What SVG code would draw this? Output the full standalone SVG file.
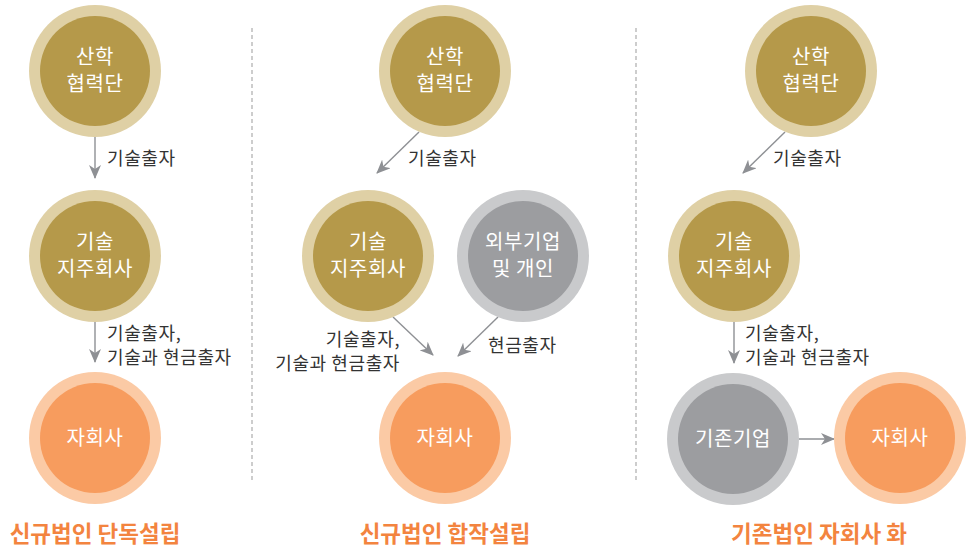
<svg xmlns="http://www.w3.org/2000/svg" width="966" height="550" viewBox="0 0 966 550">
<defs>
<style>
.og{fill:#dfd0a5}.ig{fill:#b5994a}
.oy{fill:#c9cacc}.iy{fill:#9c9da0}
.oo{fill:#fbcaa5}.io{fill:#f79c5e}
.ct{font-family:"Noto Sans CJK KR","Noto Sans",sans-serif;font-size:20px;letter-spacing:0.6px;fill:#ffffff;text-anchor:middle}
.lb{font-family:"Noto Sans CJK KR","Noto Sans",sans-serif;font-size:18px;letter-spacing:0.6px;fill:#333333}
.tt{font-family:"Noto Sans CJK KR","Noto Sans",sans-serif;font-size:22.5px;font-weight:bold;fill:#f3843f;text-anchor:middle}
.ar{stroke:#8e9094;stroke-width:1.4;fill:none;marker-end:url(#ah)}
.dv{stroke:#b3b3b3;stroke-width:1.3;stroke-dasharray:4 3;fill:none}
</style>
<marker id="ah" markerUnits="userSpaceOnUse" markerWidth="14" markerHeight="12" refX="13" refY="6" orient="auto">
<path d="M0,0 L14,6 L0,12 L4,6 z" fill="#8e9094"/>
</marker>
</defs>
<rect width="966" height="550" fill="#ffffff"/>
<g id="dividers">
<line class="dv" x1="252" y1="28" x2="252" y2="482"/>
<line class="dv" x1="636" y1="28" x2="636" y2="482"/>
</g>
<g id="connectors">
<line class="ar" x1="95" y1="137" x2="95" y2="178"/>
<line class="ar" x1="95" y1="322" x2="95" y2="362"/>
<line class="ar" x1="419" y1="132" x2="377" y2="173"/>
<line class="ar" x1="393" y1="317" x2="433" y2="355"/>
<line class="ar" x1="498" y1="317" x2="458" y2="356"/>
<line class="ar" x1="785" y1="132" x2="743" y2="173"/>
<line class="ar" x1="734" y1="322" x2="734" y2="363"/>
<line class="ar" x1="799" y1="439" x2="834" y2="439"/>
</g>
<g id="labels">
<text class="lb" x="107" y="165">기술출자</text>
<text class="lb" x="107" y="340">기술출자,</text>
<text class="lb" x="107" y="364">기술과 현금출자</text>
<text class="lb" x="408" y="165">기술출자</text>
<text class="lb" x="400" y="346" text-anchor="end">기술출자,</text>
<text class="lb" x="400" y="370" text-anchor="end">기술과 현금출자</text>
<text class="lb" x="488" y="352">현금출자</text>
<text class="lb" x="773" y="165">기술출자</text>
<text class="lb" x="745" y="340">기술출자,</text>
<text class="lb" x="745" y="364">기술과 현금출자</text>
</g>
<g id="n1-sanhak">
<circle class="og" cx="95" cy="71" r="66"/><circle class="ig" cx="95" cy="71" r="55"/>
<text class="ct" x="95" y="64">산학</text><text class="ct" x="95" y="91">협력단</text>
</g>
<g id="n1-holding">
<circle class="og" cx="95" cy="256" r="66"/><circle class="ig" cx="95" cy="256" r="55"/>
<text class="ct" x="95" y="249">기술</text><text class="ct" x="95" y="276">지주회사</text>
</g>
<g id="n1-sub">
<circle class="oo" cx="95" cy="438" r="66"/><circle class="io" cx="95" cy="438" r="55"/>
<text class="ct" x="95" y="445">자회사</text>
</g>
<g id="n2-sanhak">
<circle class="og" cx="445" cy="71" r="66"/><circle class="ig" cx="445" cy="71" r="55"/>
<text class="ct" x="445" y="64">산학</text><text class="ct" x="445" y="91">협력단</text>
</g>
<g id="n2-holding">
<circle class="og" cx="368" cy="256" r="66"/><circle class="ig" cx="368" cy="256" r="55"/>
<text class="ct" x="368" y="249">기술</text><text class="ct" x="368" y="276">지주회사</text>
</g>
<g id="n2-external">
<circle class="oy" cx="523" cy="256" r="66"/><circle class="iy" cx="523" cy="256" r="55"/>
<text class="ct" x="523" y="249">외부기업</text><text class="ct" x="523" y="276">및 개인</text>
</g>
<g id="n2-sub">
<circle class="oo" cx="445" cy="438" r="66"/><circle class="io" cx="445" cy="438" r="55"/>
<text class="ct" x="445" y="445">자회사</text>
</g>
<g id="n3-sanhak">
<circle class="og" cx="811" cy="71" r="66"/><circle class="ig" cx="811" cy="71" r="55"/>
<text class="ct" x="811" y="64">산학</text><text class="ct" x="811" y="91">협력단</text>
</g>
<g id="n3-holding">
<circle class="og" cx="734" cy="256" r="66"/><circle class="ig" cx="734" cy="256" r="55"/>
<text class="ct" x="734" y="249">기술</text><text class="ct" x="734" y="276">지주회사</text>
</g>
<g id="n3-existing">
<circle class="oy" cx="733" cy="439" r="66"/><circle class="iy" cx="733" cy="439" r="55"/>
<text class="ct" x="733" y="446">기존기업</text>
</g>
<g id="n3-sub">
<circle class="oo" cx="900" cy="438" r="66"/><circle class="io" cx="900" cy="438" r="55"/>
<text class="ct" x="900" y="445">자회사</text>
</g>
<g id="titles">
<text class="tt" x="95" y="542">신규법인 단독설립</text>
<text class="tt" x="445" y="542">신규법인 합작설립</text>
<text class="tt" x="819" y="542">기존법인 자회사 화</text>
</g>
</svg>
